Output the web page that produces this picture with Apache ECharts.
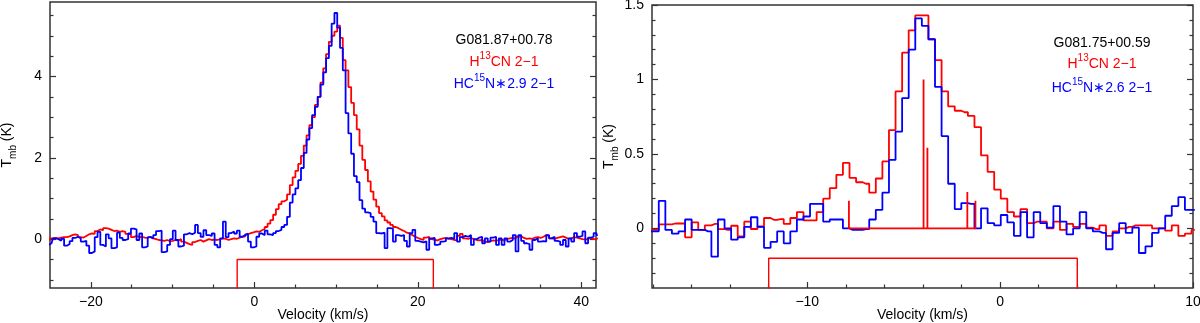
<!DOCTYPE html>
<html>
<head>
<meta charset="utf-8">
<script src="https://cdn.jsdelivr.net/npm/echarts@6/dist/echarts.min.js"></script>
<style>
  html, body { margin: 0; padding: 0; background: #fff; }
  #main { width: 1200px; height: 323px; }
</style>
</head>
<body>
<div id="main"></div>
<script>
// ---- left panel, G081.87+00.78 : channel grid (km/s) and Tmb (K) ----
const leftV0 = -25.153;
const leftDv = 0.341;
const leftH13cn = [
  -0.04, 0.02, 0.03, 0.02, 0.04, 0.05, 0.05, 0.07, 0.10, 0.12,
  0.10, 0.05, 0.04, 0.08, 0.12, 0.14, 0.13, 0.20, 0.24, 0.22,
  0.27, 0.26, 0.23, 0.20, 0.21, 0.18, 0.20, 0.18, 0.13, 0.12,
  0.05, 0.08, 0.05, 0.06, 0.04, 0.03, 0.06, 0.02, 0.00, -0.02,
  -0.03, -0.04, -0.02, -0.05, -0.04, -0.02, -0.03, 0.00, -0.06, -0.09,
  -0.12, -0.14, -0.07, -0.04, -0.02, -0.06, -0.03, 0.00, -0.02, -0.01,
  -0.02, 0.00, 0.02, 0.01, -0.02, 0.00, 0.02, 0.01, 0.04, 0.06,
  0.07, 0.12, 0.15, 0.17, 0.19, 0.18, 0.22, 0.25, 0.30, 0.38,
  0.47, 0.60, 0.74, 0.86, 0.93, 0.97, 1.10, 1.33, 1.52, 1.68,
  1.85, 2.05, 2.30, 2.55, 2.80, 3.00, 3.30, 3.50, 3.85, 4.20,
  4.55, 4.85, 5.00, 5.10, 5.25, 4.95, 4.40, 4.15, 3.74, 3.35,
  3.05, 2.70, 2.30, 1.95, 1.70, 1.42, 1.17, 0.97, 0.80, 0.64,
  0.56, 0.46, 0.41, 0.35, 0.30, 0.27, 0.23, 0.20, 0.16, 0.14,
  0.10, 0.06, 0.03, 0.00, -0.02, 0.04, 0.06, 0.00, -0.02, -0.03,
  0.00, 0.02, 0.03, 0.01, 0.00, -0.02, -0.03, 0.08, 0.13, 0.02,
  0.01, 0.03, 0.00, -0.02, -0.03, -0.02, -0.06, -0.07, -0.05, -0.03,
  -0.04, -0.02, -0.01, -0.03, 0.01, 0.02, 0.03, 0.01, 0.06, 0.07,
  0.03, 0.01, 0.02, 0.01, 0.04, 0.05, 0.03, 0.06, 0.10, 0.08,
  0.02, 0.01, 0.03, 0.05, 0.07, 0.04, 0.01, 0.02, 0.05, 0.04,
  0.02, 0.00, -0.01, 0.01, 0.03, 0.00, 0.01, 0.02
];
const leftHc15n = [
  -0.14, -0.10, 0.02, 0.00, -0.04, 0.01, -0.16, -0.12, -0.05, 0.03,
  0.06, 0.02, -0.06, -0.04, -0.16, -0.34, -0.30, 0.05, 0.18, -0.14,
  -0.18, 0.12, 0.02, -0.22, -0.20, 0.16, 0.03, -0.02, 0.00, 0.14,
  0.26, 0.24, -0.02, 0.14, -0.20, -0.18, 0.05, 0.02, 0.10, 0.20,
  0.21, -0.32, -0.30, -0.14, 0.00, 0.21, -0.02, -0.18, -0.16, 0.12,
  0.15, 0.12, 0.16, 0.35, 0.15, 0.06, 0.22, 0.10, 0.08, 0.14,
  -0.14, -0.20, 0.02, 0.43, 0.05, 0.15, 0.19, 0.14, 0.21, 0.06,
  0.10, 0.14, -0.06, -0.20, -0.18, 0.06, 0.14, 0.10, 0.21, 0.12,
  0.10, 0.15, 0.20, 0.23, 0.30, 0.35, 0.55, 0.90, 1.10, 1.25,
  1.45, 1.75, 2.12, 2.45, 2.73, 3.05, 3.25, 3.50, 3.80, 4.10,
  4.45, 4.75, 5.30, 5.56, 5.20, 4.70, 4.15, 3.10, 2.60, 2.10,
  1.55, 1.40, 0.96, 0.75, 0.66, 0.64, 0.55, 0.43, 0.15, 0.14,
  0.16, -0.22, 0.27, 0.26, -0.06, 0.10, 0.08, 0.10, -0.04, -0.18,
  0.15, 0.23, -0.04, -0.06, -0.08, -0.05, -0.26, 0.02, 0.03, -0.14,
  -0.12, -0.06, -0.05, 0.02, 0.03, 0.01, 0.15, -0.06, 0.05, 0.08,
  0.06, 0.10, -0.14, 0.00, 0.04, 0.06, -0.10, 0.02, -0.06, 0.04,
  0.06, -0.14, 0.02, -0.14, 0.02, -0.06, -0.02, 0.10, -0.30, 0.10,
  -0.04, -0.10, -0.12, -0.26, -0.02, 0.02, -0.06, -0.05, -0.06, 0.10,
  0.02, 0.06, -0.04, -0.06, -0.14, -0.02, -0.18, 0.02, -0.06, 0.15,
  0.06, 0.08, 0.19, -0.10, 0.04, 0.06, 0.15, 0.10
];
const leftWindow = [-2.1, 21.9];
const leftWindowLevel = -0.5;

// ---- right panel, G081.75+00.59 ----
const rightV0 = -18.21;
const rightDv = 0.341;
const rightH13cn = [
  -0.01, -0.01, 0.027, 0.027, 0.033, 0.033, -0.06, 0.04, -0.01, 0.02,
  0.03, -0.005, -0.01, 0.018, -0.054, 0.045, -0.004, 0.013, 0.07, 0.058,
  0.062, 0.03, 0.07, 0.11, 0.054, 0.054, 0.11, 0.20, 0.27, 0.36,
  0.44, 0.34, 0.31, 0.30, 0.24, 0.335, 0.45, 0.66, 0.92, 1.18,
  1.33, 1.43, 1.43, 1.27, 1.13, 0.92, 0.82, 0.79, 0.78, 0.755,
  0.68, 0.49, 0.38, 0.26, 0.20, 0.11, 0.08, 0.13, 0.036, 0.045,
  0.045, 0.0, 0.045, -0.01, 0.03, 0.01, 0.03, 0.005, -0.005, 0.02,
  -0.05, -0.02, 0.0, 0.01, 0.02, 0.02, 0.02, 0.0, 0.0, -0.015,
  0.02, -0.05, -0.035, -0.01
];
const rightHc15n = [
  -0.02, -0.02, 0.185, -0.01, -0.035, -0.02, 0.06, -0.01, -0.01, -0.02,
  -0.19, 0.06, 0.0, -0.075, -0.06, 0.01, 0.075, 0.01, -0.13, -0.09,
  -0.02, -0.10, -0.02, 0.06, 0.08, 0.165, 0.165, 0.045, 0.06, 0.06,
  0.0, -0.01, -0.01, -0.005, 0.06, 0.125, 0.24, 0.46, 0.65, 0.875,
  1.20, 1.41, 1.36, 1.27, 0.95, 0.62, 0.30, 0.13, 0.17, 0.165,
  0.0, 0.135, 0.035, 0.02, 0.09, 0.04, -0.05, 0.11, -0.06, 0.11,
  0.035, 0.005, 0.15, 0.045, -0.04, 0.0, 0.11, 0.0, -0.02, -0.03,
  -0.14, -0.03, 0.035, -0.03, 0.005, -0.165, -0.12, -0.03, 0.0, 0.085,
  0.15, 0.21, 0.125, 0.125
];
// H13CN 2-1 hyperfine components
const hfsVel = [-7.84, -5.31, -3.97, -3.77, -1.70, -1.28];
const hfsInt = [0.185, 0.013, 1.0, 0.542, 0.245, 0.185];
const rightWindow = [-12, 4];
const rightWindowLevel = -0.2;

// ---- ticks ----
const leftXMajor = [-20, 0, 20, 40];
const leftXMinor = [-15, -10, -5, 5, 10, 15, 25, 30, 35];
const leftYMajor = [0, 2, 4];
const leftYMinor = [-1, -0.5, 0.5, 1, 1.5, 2.5, 3, 3.5, 4.5, 5, 5.5];
const rightXMajor = [-10, 0, 10];
const rightXMinor = [-18, -16, -14, -12, -8, -6, -4, -2, 2, 4, 6, 8];
const rightYMajor = [0, 0.5, 1, 1.5];
const rightYMinor = [-0.3, -0.2, -0.1, 0.1, 0.2, 0.3, 0.4, 0.6, 0.7, 0.8, 0.9, 1.1, 1.2, 1.3, 1.4];

const RED = '#ff0000';
const BLUE = '#0000ff';
const FONT = '"Liberation Sans", Arial, sans-serif';
const TICK = '#333';

function toPairs(v0, dv, vals) {
  return vals.map((t, i) => [v0 + i * dv, t]);
}
function windowPath(w, level, floor) {
  return [[w[0], floor], [w[0], level], [w[1], level], [w[1], floor]];
}
function sticks(vel, amp) {
  const out = [];
  vel.forEach((v, i) => { out.push([v, 0], [v, amp[i]], [v, 0]); });
  return out;
}
function fmt(v) { return String(v).replace('-', '\u2212'); }

function xAxes(grid, min, max, major, minor) {
  const base = { type: 'value', gridIndex: grid, min: min, max: max, position: 'bottom',
    axisLine: { show: false, onZero: false }, splitLine: { show: false } };
  return [
    Object.assign({}, base, {
      axisTick: { inside: true, length: 6, customValues: major, lineStyle: { color: TICK, width: 1.2 } },
      axisLabel: { customValues: major, formatter: fmt, margin: 7, fontSize: 14, color: '#000', fontFamily: FONT },
      name: 'Velocity (km/s)', nameLocation: 'middle', nameGap: 20, nameMoveOverlap: false,
      nameTextStyle: { fontSize: 14, color: '#000', fontFamily: FONT }
    }),
    Object.assign({}, base, {
      axisTick: { inside: true, length: 3.5, customValues: minor, lineStyle: { color: TICK, width: 1.2 } },
      axisLabel: { show: false }
    })
  ];
}
function yAxes(grid, min, max, major, minor) {
  const base = { type: 'value', gridIndex: grid, min: min, max: max,
    axisLine: { show: false, onZero: false }, splitLine: { show: false } };
  const tk = (vals, len) => ({ inside: true, length: len, customValues: vals, lineStyle: { color: TICK, width: 1.2 } });
  return [
    Object.assign({}, base, {
      position: 'left', axisTick: tk(major, 6),
      axisLabel: { customValues: major, formatter: fmt, margin: 8, fontSize: 14, color: '#000', fontFamily: FONT },
      name: '{t|T}{s|mb}{t| (K)}', nameLocation: 'middle', nameGap: 32, nameRotate: 90,
      nameTextStyle: { lineHeight: 18, rich: {
        t: { fontSize: 14, color: '#000', fontFamily: FONT, verticalAlign: 'top' },
        s: { fontSize: 10, color: '#000', fontFamily: FONT, verticalAlign: 'bottom' }
      } }
    }),
    Object.assign({}, base, { position: 'left', axisTick: tk(minor, 3.5), axisLabel: { show: false } }),
    Object.assign({}, base, { position: 'right', axisTick: tk(major, 6), axisLabel: { show: false } }),
    Object.assign({}, base, { position: 'right', axisTick: tk(minor, 3.5), axisLabel: { show: false } })
  ];
}

function legendText(x, y, parts, color) {
  return { type: 'text', x: x, y: y, z: 100, style: {
    text: parts, align: 'center', verticalAlign: 'middle', fill: color, lineHeight: 18,
    rich: {
      n: { fontSize: 14, fontFamily: FONT, fill: color, verticalAlign: 'bottom' },
      s: { fontSize: 10, fontFamily: FONT, fill: color, verticalAlign: 'top' }
    }
  } };
}

const line = (xi, yi, data, color, w) => ({
  type: 'line', xAxisIndex: xi, yAxisIndex: yi, data: data, step: 'middle', symbol: 'none',
  color: color, lineStyle: { color: color, width: w }, clip: true, silent: true
});
const poly = (xi, yi, data, color, w) => ({
  type: 'line', xAxisIndex: xi, yAxisIndex: yi, data: data, symbol: 'none',
  color: color, lineStyle: { color: color, width: w }, clip: true, silent: true
});

const chart = echarts.init(document.getElementById('main'));
chart.setOption({
  animation: false,
  backgroundColor: '#fff',
  grid: [
    { left: 50, top: 2, width: 546, height: 286, show: true, borderColor: '#333', borderWidth: 1.5,
      containLabel: false, outerBoundsMode: 'none' },
    { left: 652, top: 5, width: 541, height: 283, show: true, borderColor: '#333', borderWidth: 1.5,
      containLabel: false, outerBoundsMode: 'none' }
  ],
  xAxis: xAxes(0, -25, 41.8, leftXMajor, leftXMinor).concat(xAxes(1, -18.05, 10, rightXMajor, rightXMinor)),
  yAxis: yAxes(0, -1.2, 5.83, leftYMajor, leftYMinor).concat(yAxes(1, -0.4, 1.5, rightYMajor, rightYMinor)),
  series: [
    line(0, 0, toPairs(leftV0, leftDv, leftH13cn), RED, 1.8),
    line(0, 0, toPairs(leftV0, leftDv, leftHc15n), BLUE, 1.8),
    poly(0, 0, windowPath(leftWindow, leftWindowLevel, -2), RED, 1.4),
    line(2, 4, toPairs(rightV0, rightDv, rightH13cn), RED, 1.8),
    line(2, 4, toPairs(rightV0, rightDv, rightHc15n), BLUE, 1.8),
    poly(2, 4, sticks(hfsVel, hfsInt), RED, 1.8),
    poly(2, 4, windowPath(rightWindow, rightWindowLevel, -1), RED, 1.4)
  ],
  graphic: [
    legendText(504, 38, '{n|G081.87+00.78}', '#000'),
    legendText(504, 60, '{n|H}{s|13}{n|CN 2\u22121}', RED),
    legendText(504, 82, '{n|HC}{s|15}{n|N\u22172.9 2\u22121}', BLUE),
    legendText(1102, 41, '{n|G081.75+00.59}', '#000'),
    legendText(1102, 62, '{n|H}{s|13}{n|CN 2\u22121}', RED),
    legendText(1102, 86, '{n|HC}{s|15}{n|N\u22172.6 2\u22121}', BLUE)
  ]
});
</script>
</body>
</html>
